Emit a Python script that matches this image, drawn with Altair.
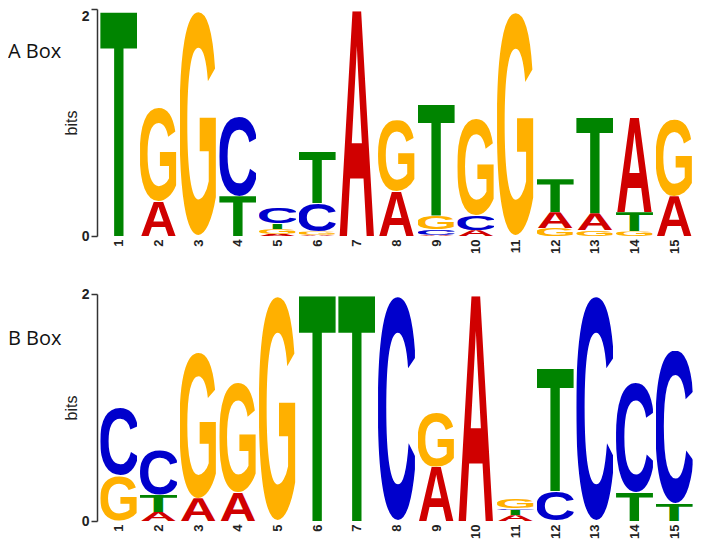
import base64
import altair as alt
import pandas as pd

# ---- data (bits per letter, stacked bottom -> top) ----
POSITIONS = list(range(1, 16))
PANEL_TITLES = ["A Box", "B Box"]

A_BOX_LETTERS = ["T", "AG", "G", "TC", "AGTC", "AGCT", "A", "AG", "ACGT", "ACG",
                 "G", "GAT", "GAT", "GTA", "AG"]
A_BOX_BITS = [[1.97], [0.30, 0.83], [1.98], [0.35, 0.70], [0.02, 0.04, 0.05, 0.14],
              [0.01, 0.03, 0.25, 0.45], [1.98], [0.39, 0.63], [0.01, 0.05, 0.12, 0.98],
              [0.05, 0.13, 0.85], [1.97], [0.07, 0.14, 0.29], [0.05, 0.15, 0.84],
              [0.04, 0.17, 0.83], [0.35, 0.68]]

B_BOX_LETTERS = ["GC", "ATC", "AG", "AG", "G", "T", "T", "C", "AG", "A",
                 "ATCG", "CT", "C", "TC", "TC"]
B_BOX_BITS = [[0.40, 0.60], [0.08, 0.15, 0.40], [0.20, 1.29], [0.25, 0.97], [1.98],
              [1.98], [1.98], [1.98], [0.48, 0.48], [1.98],
              [0.05, 0.05, 0.015, 0.08], [0.26, 1.08], [1.98], [0.25, 0.97], [0.15, 1.35]]

LETTER_COLORS = {"A": "#d00000", "C": "#0000cc", "G": "#ffb000", "T": "#008400"}

# glyph extents (font units per 1000 em, Liberation Sans Bold)
GLYPH_X = {"A": (0, 722), "C": (45, 677), "G": (45, 730), "T": (22, 589)}
GLYPH_Y = {"A": (0, 688), "C": (-13, 701), "G": (-13, 701), "T": (0, 688)}

LETTER_WIDTH = 0.93


def glyph_url(letter):
    xmin, xmax = GLYPH_X[letter]
    ymin, ymax = GLYPH_Y[letter]
    sx = 100.0 / (xmax - xmin)
    sy = 100.0 / (ymax - ymin)
    yb = 100 + ymin * sy
    svg = (
        "<svg xmlns='http://www.w3.org/2000/svg' width='100' height='100' "
        "viewBox='0 0 100 100' preserveAspectRatio='none'>"
        f"<text transform='translate(0,{yb:.4f}) scale({sx:.6f},{sy:.6f})' "
        f"x='{-xmin}' y='0' font-family='Liberation Sans, Arial, Helvetica, sans-serif' "
        f"font-weight='bold' font-size='1000' fill='{LETTER_COLORS[letter]}'>{letter}</text></svg>"
    )
    return "data:image/svg+xml;base64," + base64.b64encode(svg.encode()).decode()


def build_frame(letters, bits):
    rows = []
    for pos, lets, vals in zip(POSITIONS, letters, bits):
        base = 0.0
        for let, v in zip(lets, vals):
            rows.append({
                "pos": pos, "letter": let,
                "x0": pos - LETTER_WIDTH / 2, "x1": pos + LETTER_WIDTH / 2,
                "y0": base, "y1": base + v, "url": glyph_url(let),
            })
            base += v
    return pd.DataFrame(rows)


def panel(letters, bits, title, title_y, h, top_label_below):
    df = build_frame(letters, bits)
    if top_label_below:
        baseline = {"condition": {"test": "datum.value == 2", "value": "top"},
                    "value": "middle"}
    else:
        baseline = "middle"
    logo = alt.Chart(df).mark_image(aspect=False).encode(
        x=alt.X("x0:Q",
                scale=alt.Scale(domain=[0.45, 15.5], nice=False, zero=False),
                axis=alt.Axis(values=POSITIONS, format="d", title=None, domain=False,
                              ticks=False, grid=False, labelAngle=270, labelFontSize=13,
                              labelFontWeight="bold", labelColor="#222", labelPadding=3,
                              labelFont="Liberation Sans")),
        x2="x1:Q",
        y=alt.Y("y0:Q",
                scale=alt.Scale(domain=[0, 2], nice=False, zero=True),
                axis=alt.Axis(values=[0, 1, 2], format="d", title="bits", grid=False,
                              titleFontSize=16, titleFontWeight="normal",
                              titleFont="Liberation Sans", titleColor="#222", titlePadding=2,
                              labelFontSize=14, labelFontWeight="bold", labelColor="#222",
                              labelFont="Liberation Sans", labelPadding=2,
                              labelBaseline=baseline,
                              tickSize=6, tickColor="#333", tickWidth=1.5,
                              domainColor="#333", domainWidth=1.5)),
        y2="y1:Q",
        url="url:N",
    )
    label = alt.Chart(pd.DataFrame({"t": [title]})).mark_text(
        align="left", baseline="middle", fontSize=20, font="Open Sans", color="#111"
    ).encode(x=alt.value(-89), y=alt.value(title_y), text="t:N")
    return alt.layer(logo, label).properties(width=597, height=h)


top = panel(A_BOX_LETTERS, A_BOX_BITS, PANEL_TITLES[0], 43, 227, True)
bottom = panel(B_BOX_LETTERS, B_BOX_BITS, PANEL_TITLES[1], 45, 227, False)

chart = alt.vconcat(top, bottom, spacing=33).properties(
    padding=0
).configure_view(stroke=None)

chart.save("out.html", embed_options={"renderer": "svg", "actions": False})
